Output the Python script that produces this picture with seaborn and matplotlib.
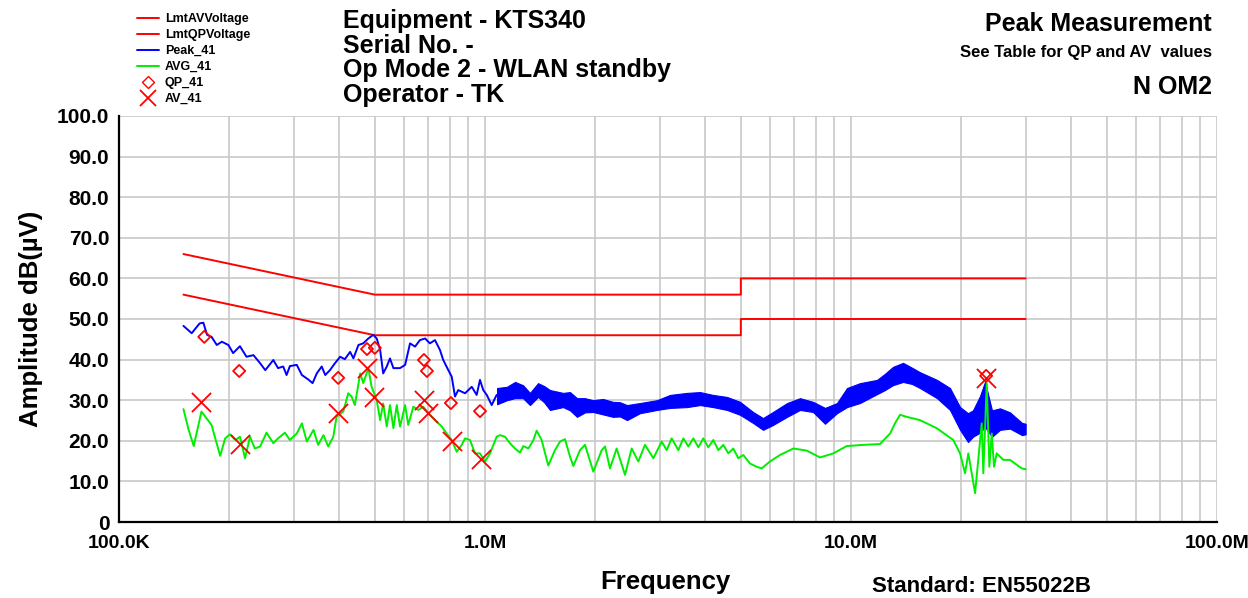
import numpy as np
import pandas as pd
import matplotlib
matplotlib.use("Agg")
import matplotlib.pyplot as plt
import matplotlib.ticker as mticker
from matplotlib.lines import Line2D
import seaborn as sns

# limit lines (kHz, dB)
lim_f = [150, 500, 5000, 5000, 30000]
lim_qp = [66, 56, 56, 60, 60]
lim_av = [56, 46, 46, 50, 50]

# Peak_41, thin part of the trace (kHz, dB)
peak_f = [150, 158, 166, 170, 174, 179, 185, 191, 199, 205, 214, 223, 233, 243, 251,
          264, 272, 281, 287, 293, 306, 316, 329, 338, 347, 358, 366, 377, 389, 402,
          414, 428, 437, 451, 465, 480, 495, 506, 517, 527, 539, 550, 562, 586, 605,
          624, 644, 664, 686, 707, 730, 753, 769, 794, 811, 828, 845, 882, 920, 949,
          969, 989, 1011, 1043, 1076]
peak_db = [48.3, 46.5, 48.9, 49.1, 46.1, 45.6, 43.6, 44.4, 43.6, 41.6, 43.3, 40.7, 41.1, 39.1, 37.4,
           39.9, 37.9, 38.3, 36.2, 38.4, 38.7, 36.2, 35.1, 34.2, 36.6, 38.3, 36.2, 37.4, 39.1, 40.7,
           40.1, 41.9, 40.3, 43.6, 44.0, 45.2, 46.1, 45.2, 42.4, 36.6, 38.3, 40.3, 37.9, 37.9, 38.7,
           44.0, 43.2, 44.8, 45.2, 44.0, 44.8, 42.4, 39.9, 37.4, 35.8, 30.9, 32.5, 31.7, 33.3, 31.3,
           35.0, 32.5, 31.3, 28.8, 31.3]

# Peak_41, noisy band above 1 MHz (kHz, upper dB, lower dB)
band_f = [1079, 1148, 1208, 1270, 1327, 1396, 1450, 1505, 1634, 1707, 1784, 1876, 1973, 2101,
          2237, 2338, 2443, 2651, 2950, 3203, 3564, 3868, 4198, 4584, 4975, 5399, 5750, 6122,
          6688, 7256, 7875, 8492, 9156, 9752, 10580, 11780, 12380, 13020, 13870, 14680, 15430,
          17180, 18640, 19860, 20880, 21540, 22510, 23230, 24280, 25540, 27190, 29330, 30000]
band_hi = [33.0, 33.3, 34.5, 33.7, 31.8, 34.2, 33.5, 32.5, 31.8, 32.0, 30.5, 30.5, 30.0, 30.3,
           29.6, 29.5, 28.8, 29.3, 30.0, 31.3, 31.8, 32.0, 31.3, 30.8, 29.6, 27.1, 25.6, 27.1,
           29.3, 30.5, 29.6, 28.1, 29.3, 33.0, 34.2, 35.0, 36.5, 38.2, 39.2, 38.0, 36.9,
           35.0, 33.0, 28.3, 26.8, 27.5, 31.0, 34.5, 27.5, 28.0, 27.0, 24.4, 24.2]
band_lo = [29.0, 30.0, 30.5, 30.5, 28.8, 30.8, 29.5, 27.6, 28.3, 27.5, 25.9, 27.0, 27.1, 26.5,
           25.9, 26.0, 25.1, 26.8, 27.6, 28.1, 28.3, 28.8, 28.3, 27.6, 26.4, 24.4, 22.7, 23.9,
           25.9, 27.6, 27.1, 24.2, 26.8, 28.3, 29.3, 31.5, 32.5, 33.7, 34.5, 34.0, 33.0,
           30.5, 27.6, 22.7, 19.7, 21.0, 22.0, 23.4, 21.0, 22.7, 23.0, 21.4, 21.6]

# AVG_41 (kHz, dB)
avg_f = [150, 155, 160, 168, 179, 189, 195, 201, 208, 214, 221, 228, 235, 243, 253,
         264, 272, 284, 293, 306, 316, 326, 340, 350, 362, 373, 385, 393, 410, 423,
         432, 441, 456, 465, 480, 490, 506, 517, 527, 539, 550, 562, 574, 586, 605,
         617, 637, 657, 678, 707, 738, 762, 786, 811, 837, 864, 882, 910, 939, 969,
         1000, 1032, 1076, 1099, 1134, 1170, 1208, 1246, 1273, 1314, 1356, 1384, 1428, 1489,
         1553, 1603, 1654, 1707, 1743, 1818, 1876, 1977, 2084, 2128, 2195, 2289, 2413, 2516,
         2624, 2736, 2884, 3039, 3136, 3236, 3375, 3483, 3594, 3709, 3827, 3950, 4075, 4206,
         4340, 4479, 4622, 4769, 4922, 5079, 5297, 5526, 5701, 6005, 6397, 6958, 7566, 8229,
         8949, 9731, 10810, 12000, 12790, 13190, 13610, 14200, 15430, 17150, 19030, 19860,
         20490, 20920, 21830, 22270, 22760, 22990, 23490, 23880, 24240, 24590, 25010, 26070,
         27190, 29270, 30000]
avg_db = [27.8, 22.7, 18.7, 27.2, 23.9, 16.3, 20.6, 21.6, 20.2, 21.0, 15.7, 21.0, 18.1, 18.6, 22.0,
          19.4, 20.6, 22.0, 20.2, 21.8, 24.3, 19.8, 22.7, 19.0, 21.4, 18.6, 21.0, 25.9, 27.2, 31.7,
          30.9, 28.8, 36.6, 34.2, 37.9, 33.3, 30.0, 25.1, 29.2, 23.5, 28.8, 23.1, 28.8, 23.5, 28.8,
          23.9, 28.4, 27.6, 28.4, 26.4, 24.7, 23.5, 21.8, 20.2, 17.3, 19.0, 20.6, 20.2, 16.9, 16.9,
          14.9, 16.9, 21.0, 21.4, 21.0, 19.4, 18.1, 17.1, 18.7, 18.1, 20.2, 22.5, 20.2, 13.9,
          17.7, 19.8, 20.4, 16.1, 13.8, 17.7, 19.0, 12.4, 17.7, 18.6, 13.2, 18.1, 11.6, 18.1,
          14.9, 19.0, 15.7, 19.8, 17.7, 20.6, 17.7, 20.6, 18.6, 20.6, 18.4, 20.6, 18.4, 20.2,
          17.7, 19.0, 16.9, 18.1, 15.7, 16.5, 14.4, 13.6, 13.2, 14.9, 16.5, 18.1, 17.6, 15.9,
          16.9, 18.7, 19.0, 19.2, 21.8, 24.3, 26.4, 25.9, 25.1, 23.1, 20.2, 16.9,
          12.0, 16.9, 7.1, 15.3, 24.3, 12.0, 34.2, 13.6, 21.8, 13.6, 16.9, 15.3,
          15.3, 13.2, 13.0]

# QP_41 and AV_41 measurement points (kHz, dB)
qp_f = [171, 213, 397, 476, 500, 681, 694, 807, 969, 23400]
qp_db = [45.6, 37.2, 35.5, 42.6, 42.9, 39.9, 37.2, 29.3, 27.3, 36.0]
av_f = [168, 214, 397, 476, 497, 681, 699, 813, 975, 23400]
av_db = [29.6, 19.2, 26.8, 37.9, 30.8, 30.0, 26.8, 20.0, 15.5, 35.5]

title_lines = ["Equipment - KTS340", "Serial No. -", "Op Mode 2 - WLAN standby", "Operator - TK"]

RED = "#ff0000"
BLUE = "#0000ff"
GREEN = "#00ee00"

sns.set_style("white")
plt.rcParams["font.family"] = ["Liberation Sans", "DejaVu Sans"]
plt.rcParams["font.weight"] = "bold"
plt.rcParams["text.color"] = "black"
plt.rcParams["axes.labelcolor"] = "black"

fig = plt.figure(figsize=(12.48, 5.98), dpi=100)
ax = fig.add_axes([119 / 1248, 1 - 522 / 598, (1217 - 119) / 1248, (522 - 116) / 598])

khz = 1e3
lim = pd.DataFrame({"f": np.array(lim_f) * khz, "qp": lim_qp, "av": lim_av})
sns.lineplot(data=lim, x="f", y="qp", ax=ax, color=RED, lw=1.4, sort=False, estimator=None)
sns.lineplot(data=lim, x="f", y="av", ax=ax, color=RED, lw=1.4, sort=False, estimator=None)

ax.fill_between(np.array(band_f) * khz, band_lo, band_hi, color=BLUE, lw=0.8, edgecolor=BLUE)
peak = pd.DataFrame({"f": np.array(peak_f) * khz, "db": peak_db})
sns.lineplot(data=peak, x="f", y="db", ax=ax, color=BLUE, lw=1.4, sort=False, estimator=None)

avg = pd.DataFrame({"f": np.array(avg_f) * khz, "db": avg_db})
sns.lineplot(data=avg, x="f", y="db", ax=ax, color=GREEN, lw=1.4, sort=False, estimator=None)

qp = pd.DataFrame({"f": np.array(qp_f) * khz, "db": qp_db})
av = pd.DataFrame({"f": np.array(av_f) * khz, "db": av_db})
sns.scatterplot(data=qp, x="f", y="db", ax=ax, marker="D", s=38, facecolor="none",
                edgecolor=RED, linewidth=1.3, zorder=5)
sns.scatterplot(data=av, x="f", y="db", ax=ax, marker="x", s=190, color=RED,
                linewidth=1.3, zorder=5)

ax.set_xscale("log")
ax.set_xlim(1e5, 1e8)
ax.set_ylim(0, 100)

ax.xaxis.set_major_locator(mticker.FixedLocator([1e5, 1e6, 1e7, 1e8]))
ax.xaxis.set_major_formatter(mticker.FixedFormatter(["100.0K", "1.0M", "10.0M", "100.0M"]))
ax.xaxis.set_minor_locator(mticker.LogLocator(base=10, subs=np.arange(2, 10), numticks=20))
ax.xaxis.set_minor_formatter(mticker.NullFormatter())
ax.yaxis.set_minor_locator(mticker.MultipleLocator(2.5))
ax.set_yticks(np.arange(0, 101, 10))
ax.set_yticklabels(["0"] + ["%.1f" % v for v in range(10, 101, 10)])

ax.grid(which="major", color="#c8c8c8", lw=1.2)
ax.grid(which="minor", axis="x", color="#c8c8c8", lw=1.2)
ax.set_axisbelow(True)

for s in ["top", "right"]:
    ax.spines[s].set_visible(False)
for s in ["left", "bottom"]:
    ax.spines[s].set_color("black")
    ax.spines[s].set_linewidth(1.6)
ax.tick_params(which="major", direction="inout", length=10, width=1.4, colors="black")
ax.tick_params(which="minor", direction="inout", length=6, width=1.2, colors="black")
ax.tick_params(axis="y", which="major", labelsize=15, pad=2)
ax.tick_params(axis="x", which="major", labelsize=14, pad=4)
for lab in ax.get_xticklabels() + ax.get_yticklabels():
    lab.set_fontweight("bold")

ax.set_xlabel("")
ax.set_ylabel("Amplitude dB(µV)", fontsize=18.5, fontweight="bold", labelpad=10, color="black")

# titles
for i, line in enumerate(title_lines):
    fig.text(343 / 1248, 1 - (21 + 24.7 * i) / 598, line, fontsize=18, fontweight="bold",
             va="center", ha="left")
fig.text(1212 / 1248, 1 - 24 / 598, "Peak Measurement", fontsize=18, fontweight="bold",
         ha="right", va="center")
fig.text(1212 / 1248, 1 - 52 / 598, "See Table for QP and AV  values", fontsize=12,
         fontweight="bold", ha="right", va="center")
fig.text(1212 / 1248, 1 - 87 / 598, "N OM2", fontsize=18, fontweight="bold",
         ha="right", va="center")
fig.text(665 / 1248, 1 - 582 / 598, "Frequency", fontsize=18.5, fontweight="bold",
         ha="center", va="center")
fig.text(872 / 1248, 1 - 597 / 598, "Standard: EN55022B", fontsize=16, fontweight="bold",
         ha="left", va="bottom")

handles = [
    Line2D([], [], color=RED, lw=1.4),
    Line2D([], [], color=RED, lw=1.4),
    Line2D([], [], color=BLUE, lw=1.4),
    Line2D([], [], color=GREEN, lw=1.4),
    Line2D([], [], color=RED, marker="D", ls="none", markerfacecolor="none", markersize=6),
    Line2D([], [], color=RED, marker="x", ls="none", markersize=12, markeredgewidth=1.3),
]
labels = ["LmtAVVoltage", "LmtQPVoltage", "Peak_41", "AVG_41", "QP_41", "AV_41"]
fig.legend(handles, labels, loc="upper left", bbox_to_anchor=(131 / 1248, 1 - 7 / 598),
           frameon=False, handlelength=1.7, handletextpad=0.5, labelcolor="black",
           labelspacing=0.32, borderpad=0, prop={"weight": "bold", "size": 9})

fig.savefig("out.png", dpi=100)
